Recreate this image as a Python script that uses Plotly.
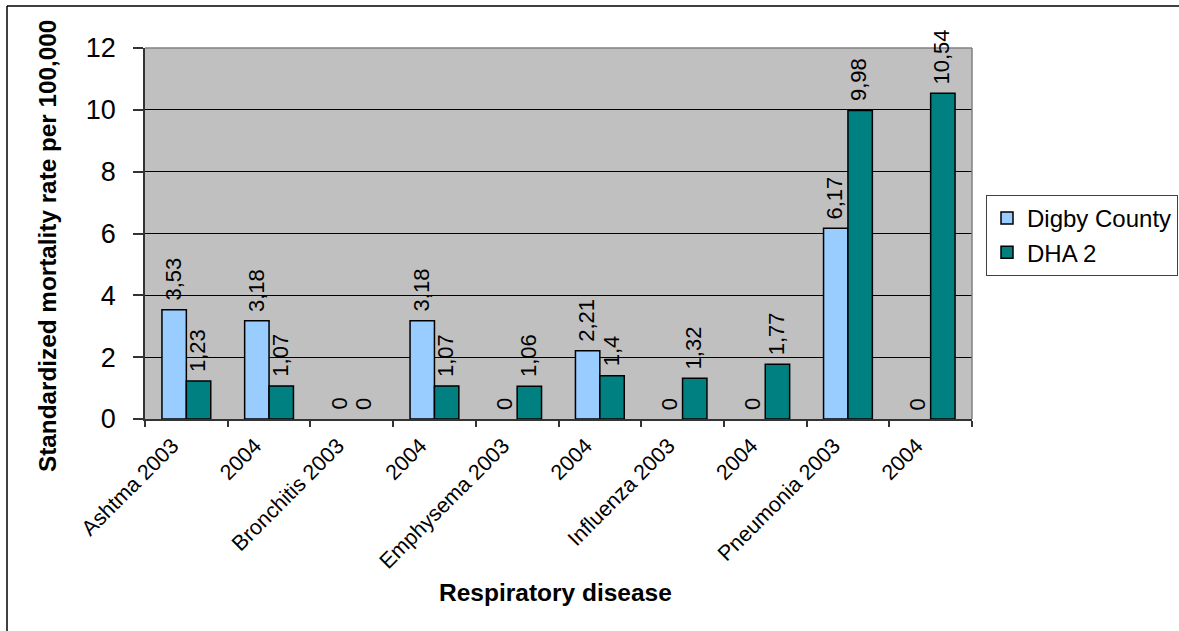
import plotly.graph_objects as go

# Respiratory disease mortality, standardized rate per 100,000
categories = [
    "Ashtma 2003", "Ashtma 2004",
    "Bronchitis 2003", "Bronchitis 2004",
    "Emphysema 2003", "Emphysema 2004",
    "Influenza 2003", "Influenza 2004",
    "Pneumonia 2003", "Pneumonia 2004",
]
tick_labels = [
    "Ashtma 2003", "2004",
    "Bronchitis 2003", "2004",
    "Emphysema 2003", "2004",
    "Influenza 2003", "2004",
    "Pneumonia 2003", "2004",
]
digby_county = [3.53, 3.18, 0, 3.18, 0, 2.21, 0, 0, 6.17, 0]
dha_2 = [1.23, 1.07, 0, 1.07, 1.06, 1.4, 1.32, 1.77, 9.98, 10.54]

W, H = 1179, 631
ML, MR, MT, MB = 145, 207, 48, 212
PW, PH = W - ML - MR, H - MT - MB
BARGAP = 0.41
FONT = "Liberation Sans, Arial, sans-serif"


def px_x(px):
    return (px - ML) / PW


def px_y(py):
    return (H - MB - py) / PH


def fmt(v):
    return f"{v:g}".replace(".", ",")


def outline_widths(values):
    # zero-height bars get no outline
    return [1.5 if v else 0 for v in values]


fig = go.Figure()
fig.add_trace(go.Bar(
    name="Digby County", x=categories, y=digby_county,
    marker=dict(color="#99CCFF",
                line=dict(color="black", width=outline_widths(digby_county))),
))
fig.add_trace(go.Bar(
    name="DHA 2", x=categories, y=dha_2,
    marker=dict(color="#008080",
                line=dict(color="black", width=outline_widths(dha_2))),
))

# value labels above each bar, rotated
half = (1 - BARGAP) / 4
annotations = []
for series, shift in ((digby_county, -half), (dha_2, half)):
    for i, v in enumerate(series):
        annotations.append(dict(
            x=i + shift, y=v, xref="x", yref="y",
            text=fmt(v), showarrow=False, textangle=-90,
            xanchor="center", yanchor="bottom", yshift=7, xshift=-1,
            font=dict(family=FONT, size=22, color="black"),
        ))

# axis titles
annotations.append(dict(
    x=px_x(555), y=px_y(592), xref="paper", yref="paper",
    text="<b>Respiratory disease</b>", showarrow=False,
    xanchor="center", yanchor="middle",
    font=dict(family=FONT, size=24.5, color="black"),
))
annotations.append(dict(
    x=px_x(47), y=px_y(246), xref="paper", yref="paper",
    text="<b>Standardized mortality rate per 100,000</b>", showarrow=False,
    textangle=-90, xanchor="center", yanchor="middle",
    font=dict(family=FONT, size=24.3, color="black"),
))

shapes = [
    # plot area frame (top and right)
    dict(type="line", xref="paper", yref="paper", x0=0, x1=1, y0=1, y1=1,
         line=dict(color="#808080", width=1.5), layer="above"),
    dict(type="line", xref="paper", yref="paper", x0=1, x1=1, y0=0, y1=1,
         line=dict(color="#808080", width=1.5), layer="above"),
    # outer chart frame
    dict(type="line", xref="paper", yref="paper", x0=px_x(7), x1=px_x(7),
         y0=px_y(700), y1=px_y(6), line=dict(color="black", width=1.5)),
    dict(type="line", xref="paper", yref="paper", x0=px_x(7), x1=px_x(1300),
         y0=px_y(6), y1=px_y(6), line=dict(color="black", width=1.5)),
]

fig.update_layout(
    width=W, height=H,
    margin=dict(l=ML, r=MR, t=MT, b=MB, pad=0),
    paper_bgcolor="white", plot_bgcolor="#C0C0C0",
    barmode="group", bargap=BARGAP, bargroupgap=0,
    font=dict(family=FONT, color="black"),
    showlegend=True,
    legend=dict(
        xref="container", yref="container",
        x=1178 / W, xanchor="right", y=1 - 195 / H, yanchor="top",
        bgcolor="white", bordercolor="#404040", borderwidth=1,
        font=dict(family=FONT, size=24, color="black"),
        tracegroupgap=0,
    ),
    xaxis=dict(
        type="category", tickmode="array", tickvals=categories, ticktext=tick_labels,
        tickangle=-45, tickson="boundaries", ticks="outside", ticklen=6,
        tickcolor="#333333", tickwidth=1.5,
        showline=True, linecolor="#333333", linewidth=1.5,
        showgrid=False, range=[-0.5, 9.5],
        ticklabelshift=-14, ticklabelstandoff=4,
        tickfont=dict(family=FONT, size=21.5, color="black"),
    ),
    yaxis=dict(
        range=[0, 12], tick0=0, dtick=2,
        showgrid=True, gridcolor="black", gridwidth=1,
        ticks="outside", ticklen=10, tickcolor="#333333", tickwidth=1.5,
        showline=True, linecolor="#333333", linewidth=1.5,
        zeroline=False, ticklabelstandoff=12,
        tickfont=dict(family=FONT, size=27, color="black"),
    ),
    annotations=annotations,
    shapes=shapes,
)

fig.write_html("out.html")
